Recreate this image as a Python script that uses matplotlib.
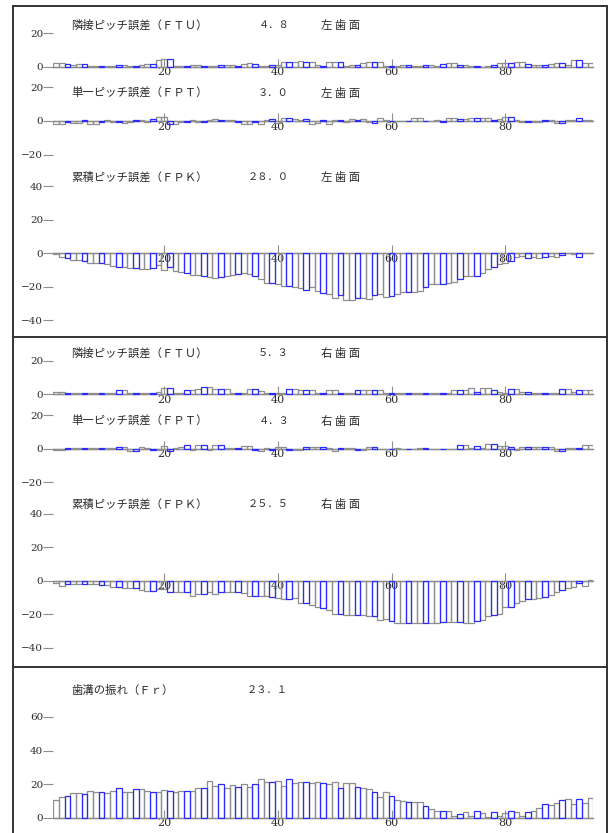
import matplotlib
matplotlib.use('Agg')
import matplotlib.pyplot as plt
import numpy as np

# tooth numbers
teeth = np.arange(1, 96)

# left flank
ftu_left = [2.5, 2.5, 1.5, 1.0, 1.5, 1.5, 0.5, 0.5, 0.5, 0.5,
            0.5, 1.0, 1.0, 0.5, 0.5, 1.0, 1.5, 1.5, 4.0, 4.5,
            4.5, 0.5, 0.5, 0.5, 1.0, 1.0, 0.5, 0.5, 0.5, 1.0,
            1.0, 1.0, 0.5, 1.5, 2.0, 1.5, 0.5, 0.5, 1.0, 1.0,
            3.0, 3.0, 3.0, 3.5, 3.0, 3.0, 1.0, 0.5, 3.0, 3.0,
            3.0, 0.5, 1.0, 1.0, 2.5, 3.0, 3.0, 3.0, 0.5, 0.5,
            0.5, 1.0, 1.0, 0.5, 0.5, 1.0, 1.0, 0.5, 1.5, 2.5,
            2.5, 1.0, 1.0, 0.5, 0.5, 0.0, 0.5, 1.0, 2.5, 2.5,
            2.5, 3.0, 3.0, 1.5, 1.0, 1.0, 1.0, 1.5, 2.0, 2.0,
            1.0, 4.0, 4.0, 2.0, 2.0]
fpt_left = [-1.5, -1.5, -0.5, -1.0, -1.0, 0.5, -1.5, -1.5, -0.5, 0.5,
            -0.5, -0.5, -1.0, -0.5, 0.5, 0.5, -0.5, 1.0, 2.5, 2.5,
            -1.5, -1.5, -0.5, -0.5, 0.5, -0.5, -0.5, 0.5, 1.0, 0.5,
            0.5, 0.5, -0.5, -1.5, -1.5, -0.5, -1.5, 0.5, 1.0, -1.0,
            2.0, 2.0, 1.0, 0.5, 1.0, -1.5, -1.0, 0.5, -1.5, 0.5,
            0.5, -0.5, 1.0, 0.5, 1.0, -0.5, -1.0, 1.5, 0.5, 0.0,
            0.0, 0.0, 0.0, 1.5, 1.5, 0.0, 0.0, 0.5, -0.5, 2.0,
            1.5, 1.0, 1.0, 1.5, 1.5, 1.5, 1.5, 0.5, 1.0, 2.5,
            2.5, 0.5, -0.5, -0.5, -0.5, -0.5, 0.5, 0.5, -1.0, -1.0,
            0.5, 0.5, 2.0, 0.5, 0.5]
fpk_left = [-0.6, -2.4, -3.0, -4.0, -4.0, -4.3, -5.5, -5.5, -5.5, -6.3,
            -7.3, -7.9, -7.9, -8.5, -8.9, -9.5, -9.3, -8.5, -6.9, -9.9,
            -7.9, -10.8, -11.4, -11.8, -12.8, -12.8, -13.8, -14.4, -14.8, -14.4,
            -13.4, -12.8, -12.4, -12.0, -12.4, -13.4, -15.4, -17.4, -17.8, -18.4,
            -19.4, -19.2, -20.0, -20.5, -22.0, -20.0, -22.6, -23.6, -24.0, -26.6,
            -25.0, -27.6, -27.6, -26.6, -26.6, -27.0, -24.6, -24.0, -26.0, -25.4,
            -24.0, -23.0, -23.0, -23.0, -22.6, -20.3, -18.3, -18.3, -18.3, -17.7,
            -16.8, -15.4, -13.8, -13.4, -13.4, -11.8, -9.5, -7.9, -6.3, -5.5,
            -4.3, -2.4, -1.4, -3.0, -2.0, -3.0, -2.0, -1.6, -2.4, -1.0,
            0.0, -0.5, -2.4, 0.0, 0.0]

# right flank
ftu_right = [1.5, 1.5, 0.5, 0.5, 0.5, 0.5, 1.0, 0.5, 0.5, 1.0,
             1.0, 2.5, 2.5, 1.0, 0.5, 0.5, 1.0, 1.0, 1.5, 3.5,
             3.5, 1.0, 1.0, 2.5, 2.5, 3.0, 4.5, 4.5, 3.0, 3.0,
             3.0, 0.5, 1.0, 1.0, 3.0, 3.0, 2.0, 1.0, 0.5, 1.0,
             0.5, 3.0, 3.0, 2.5, 2.5, 2.5, 0.5, 1.0, 2.5, 2.5,
             1.0, 0.5, 0.5, 2.5, 2.5, 2.5, 2.5, 2.5, 1.0, 1.0,
             0.5, 0.5, 0.5, 0.5, 1.0, 1.0, 0.5, 0.5, 0.5, 0.5,
             2.5, 2.5, 2.5, 3.5, 1.5, 4.0, 4.0, 2.5, 1.5, 1.0,
             3.0, 3.0, 1.5, 1.5, 0.5, 0.5, 0.5, 0.5, 1.0, 3.0,
             3.0, 1.5, 2.5, 2.5, 2.5]
fpt_right = [-1.0, -1.0, 0.5, 0.5, 0.5, 0.5, 0.5, 0.5, 0.5, 0.5,
             0.5, 1.0, 1.0, -1.5, -1.5, 1.0, 0.5, -1.0, -1.0, 1.5,
             -1.5, 0.5, 1.0, 2.5, -1.0, 2.5, 2.5, -1.0, 2.5, 2.5,
             0.5, 0.5, 0.5, 1.5, 1.5, -1.0, -1.5, 0.5, -1.0, 1.0,
             1.0, -0.5, -1.0, -1.0, 1.0, 1.0, 1.0, 1.0, 0.5, -1.5,
             0.5, 0.5, 0.5, -1.0, -1.0, 1.0, 1.0, 0.0, 0.0, 0.0,
             0.5, 0.0, 0.0, 0.0, 0.5, 0.5, 0.0, 0.0, 0.0, 0.0,
             0.0, 2.0, 2.0, 0.5, 1.5, 0.5, 3.0, 3.0, 1.5, 1.5,
             1.0, -0.5, 1.0, 1.0, 1.0, 1.0, 1.0, 1.0, -1.5, -1.5,
             0.5, 0.5, 0.5, 2.0, 2.0]
fpk_right = [-1.6, -3.0, -1.8, -1.8, -1.8, -1.8, -2.0, -2.0, -2.5, -2.5,
             -3.5, -3.5, -4.5, -4.5, -4.5, -5.5, -6.0, -6.0, -5.2, -5.2,
             -7.0, -7.0, -7.0, -7.0, -8.9, -7.9, -7.9, -7.0, -7.9, -6.5,
             -6.5, -6.5, -7.0, -7.5, -8.9, -8.9, -8.9, -8.9, -9.5, -10.0,
             -11.0, -11.0, -10.0, -13.0, -13.4, -14.4, -15.4, -16.4, -17.4, -19.9,
             -19.9, -20.3, -20.7, -20.7, -20.7, -21.3, -21.3, -23.3, -22.5, -23.9,
             -25.0, -25.0, -25.0, -25.0, -25.0, -25.0, -25.0, -25.0, -24.6, -24.6,
             -24.6, -24.6, -25.4, -25.4, -24.0, -23.3, -21.0, -20.3, -19.9, -15.8,
             -15.4, -13.0, -12.0, -11.0, -11.0, -10.0, -9.5, -8.5, -7.0, -5.5,
             -4.5, -3.5, -1.2, -3.2, 0.3]

# runout
fr_runout = [10.5, 12.1, 13.1, 14.5, 14.5, 13.9, 15.9, 15.5, 15.1, 14.9,
             15.9, 17.5, 15.5, 15.5, 17.1, 17.1, 16.1, 15.1, 15.1, 16.5,
             16.1, 15.5, 16.1, 16.1, 15.9, 17.5, 17.5, 21.9, 18.9, 19.9,
             17.5, 19.5, 18.5, 19.9, 18.5, 19.9, 22.9, 21.1, 21.1, 21.9,
             19.1, 23.1, 20.5, 21.5, 21.0, 20.5, 21.0, 20.5, 19.9, 21.5,
             17.5, 20.5, 20.5, 18.5, 17.9, 17.1, 15.1, 12.1, 15.5, 13.1,
             10.5, 9.9, 9.5, 9.5, 9.1, 7.0, 5.0, 4.2, 4.2, 4.2,
             1.2, 2.0, 3.6, 1.0, 4.0, 2.6, 0.6, 3.2, 1.0, 2.6,
             4.2, 3.2, 1.2, 3.2, 4.0, 6.0, 8.0, 7.6, 8.5, 10.5,
             10.9, 8.0, 10.9, 8.9, 11.5]

titles = ['隣接ピッチ誤差（ＦＴＵ）', '単一ピッチ誤差（ＦＰＴ）', '累積ピッチ誤差（ＦＰＫ）']
left_summary = ['４．８', '３．０', '２８．０']
right_summary = ['５．３', '４．３', '２５．５']
fr_title = '歯溝の振れ（Ｆｒ）'
fr_summary = '２３．１'

W, H = 609, 833
BLUE = '#2a2aff'
GRAY = '#8e8e8e'
TXT = '#2a2a2a'
CJK = ['Noto Sans CJK JP', 'DejaVu Sans']
SCALE = 1.68  # px per unit
X_LEFT, X_RIGHT = 53.3, 593.3

fig = plt.figure(figsize=(W / 100, H / 100), dpi=100)
blue_mask = (teeth % 3 == 0)


def sub_axes(zero_px, lo, hi, yticks, values):
    top = zero_px - hi * SCALE
    bottom = zero_px - lo * SCALE
    ax = fig.add_axes([X_LEFT / W, 1 - bottom / H,
                       (X_RIGHT - X_LEFT) / W, (bottom - top) / H])
    ax.set_xlim(0.5, 95.5)
    ax.set_ylim(lo, hi)
    ax.patch.set_alpha(0)
    for s in ['top', 'right', 'left']:
        ax.spines[s].set_visible(False)
    ax.spines['bottom'].set_position(('data', 0))
    ax.spines['bottom'].set_color(GRAY)
    ax.spines['bottom'].set_linewidth(1.0)
    ax.set_xticks([20, 40, 60, 80])
    ax.set_xticklabels(['20', '40', '60', '80'])
    ax.set_yticks(yticks)
    ax.set_yticklabels([str(v).replace('-', '\u2212') for v in yticks])
    ax.tick_params(axis='x', direction='in', length=6, width=0.8, color=GRAY,
                   pad=0.5, labelsize=8, labelcolor=TXT)
    ax.tick_params(axis='y', direction='out', length=7, width=0.8, color=GRAY,
                   pad=0.3, labelsize=7.5, labelcolor=TXT)
    for lab in ax.get_xticklabels() + ax.get_yticklabels():
        lab.set_family('DejaVu Serif')
    vals = np.array(values)
    ax.bar(teeth[~blue_mask], vals[~blue_mask], width=1.0, fill=False,
           edgecolor=GRAY, linewidth=0.9, zorder=2)
    ax.bar(teeth[blue_mask], vals[blue_mask], width=1.0, fill=False,
           edgecolor=BLUE, linewidth=0.9, zorder=3)
    return ax


# panel 1: left flank
sub_axes(66.7, -3, 22, [0, 20], ftu_left)
sub_axes(121.0, -22, 22, [-20, 0, 20], fpt_left)
sub_axes(253.3, -42, 42, [-40, -20, 0, 20, 40], fpk_left)
# panel 2: right flank
sub_axes(394.3, -3, 22, [0, 20], ftu_right)
sub_axes(448.7, -22, 22, [-20, 0, 20], fpt_right)
sub_axes(580.7, -42, 42, [-40, -20, 0, 20, 40], fpk_right)
# panel 3: runout
sub_axes(817.7, -3, 62, [0, 20, 40, 60], fr_runout)

# overlay in pixel coordinates for frames and titles
ov = fig.add_axes([0, 0, 1, 1])
ov.set_xlim(0, W)
ov.set_ylim(H, 0)
ov.axis('off')
ov.patch.set_alpha(0)

frame = dict(color='#333333', lw=1.4)
ov.plot([13, 607], [6, 6], **frame)
ov.plot([13, 13], [6, 833], **frame)
ov.plot([607, 607], [6, 833], **frame)
ov.plot([13, 607], [337, 337], **frame)
ov.plot([13, 607], [667, 667], **frame)

left_rows = [25, 93, 177]
right_rows = [353, 421, 504]
for y, t, v in zip(left_rows, titles, left_summary):
    ov.text(71, y, t, family=CJK, fontsize=8.2, color=TXT, va='center', ha='left')
    ov.text(289, y, v, family=CJK, fontsize=7.4, color=TXT, va='center', ha='right')
    ov.text(321, y, '左 歯 面', family=CJK, fontsize=8.2, color=TXT, va='center', ha='left')
for y, t, v in zip(right_rows, titles, right_summary):
    ov.text(71, y, t, family=CJK, fontsize=8.2, color=TXT, va='center', ha='left')
    ov.text(289, y, v, family=CJK, fontsize=7.4, color=TXT, va='center', ha='right')
    ov.text(321, y, '右 歯 面', family=CJK, fontsize=8.2, color=TXT, va='center', ha='left')
ov.text(71, 690, fr_title, family=CJK, fontsize=8.2, color=TXT, va='center', ha='left')
ov.text(288, 690, fr_summary, family=CJK, fontsize=7.4, color=TXT, va='center', ha='right')

fig.savefig('out.png', dpi=100)
